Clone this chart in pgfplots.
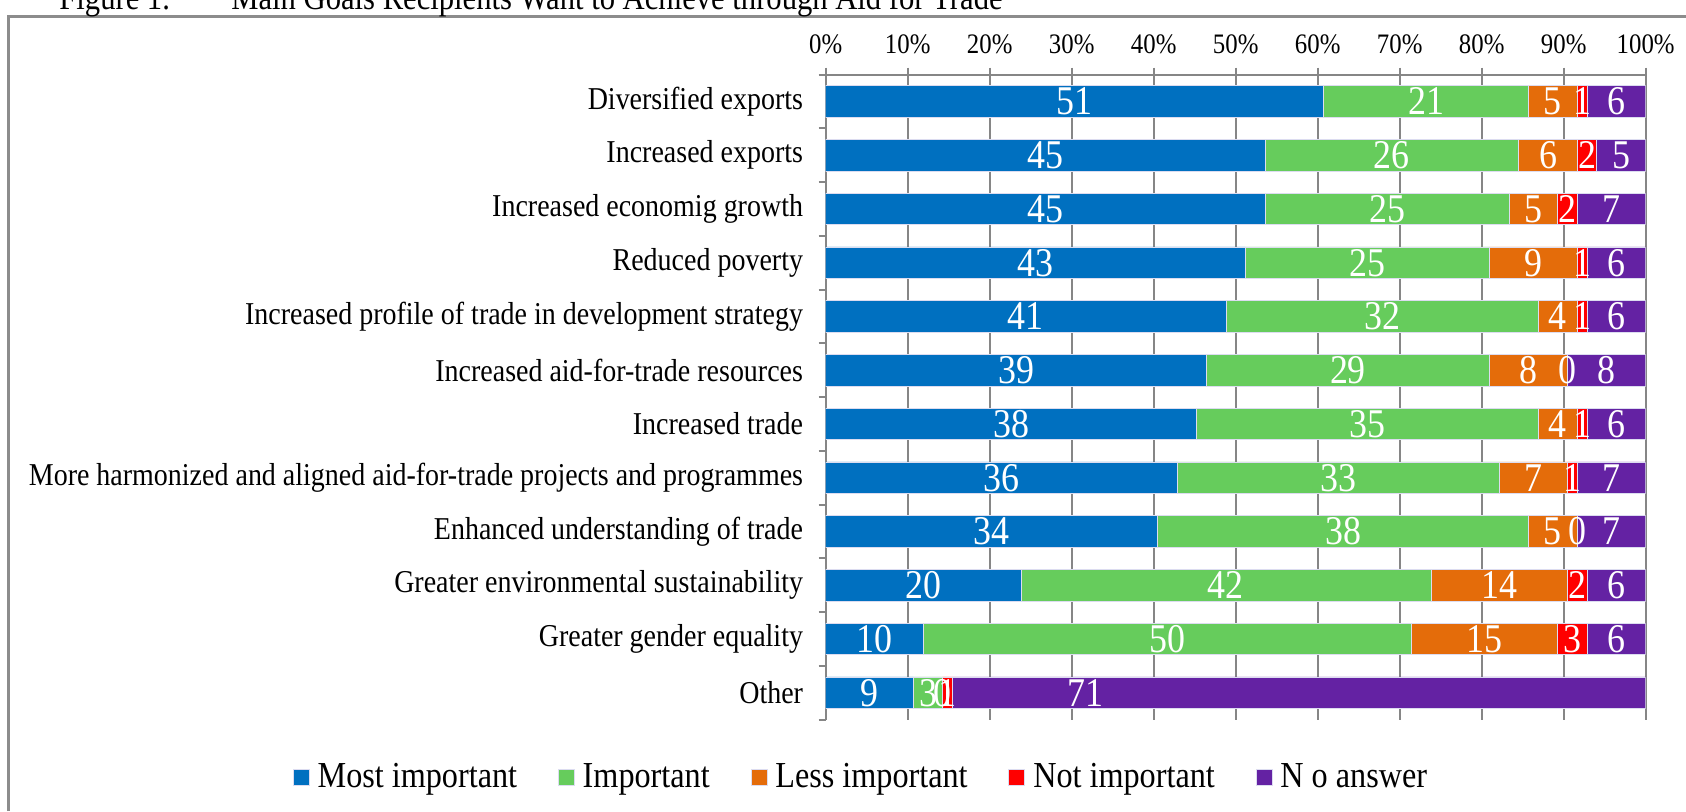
\documentclass[border=0pt]{standalone}
\usepackage{fontspec}
\setmainfont{Liberation Serif}[FakeStretch=0.88]
\usepackage{pgfplots}
\usepackage{pgfplotstable}
\pgfplotsset{compat=1.18}
\definecolor{cMost}{RGB}{0,112,192}
\definecolor{cImp}{RGB}{102,204,92}
\definecolor{cLess}{RGB}{228,108,10}
\definecolor{cNot}{RGB}{255,0,0}
\definecolor{cNo}{RGB}{100,34,163}
\definecolor{gridgray}{RGB}{134,134,134}
\definecolor{framegray}{RGB}{140,140,140}
\definecolor{edge}{RGB}{220,220,240}
\newcommand\catfont{\fontsize{15.9pt}{18pt}\selectfont}
\newcommand\tickfont{\fontsize{14.1pt}{16pt}\selectfont}
\newcommand\valfont{\fontsize{20.4pt}{22pt}\selectfont}
\newcommand\legfont{\fontsize{18.3pt}{20pt}\selectfont}
\newcommand\titfont{\fontsize{17.4pt}{20pt}\selectfont}
% zero shares are given as 0.001 so that their "0" label is still drawn
\pgfplotstableread{
y mi imp less notimp noans dx
11 51 21 5 1 6 0
10 45 26 6 2 5 0
9 45 25 5 2 7 0
8 43 25 9 1 6 0
7 41 32 4 1 6 0
6 39 29 8 0.001 8 0
5 38 35 4 1 6 0
4 36 33 7 1 7 0
3 34 38 5 0.001 7 0
2 20 42 14 2 6 0
1 10 50 15 3 6 0
0 9 3 0.001 1 71 -107
}\goals
\begin{document}
\begin{tikzpicture}
\begin{axis}[
  at={(412.85pt,-37.3pt)}, anchor=north west,
  scale only axis, width=410pt, height=322.5pt,
  xbar stacked, bar width=15.75pt,
  xmin=0, xmax=84.002, ymin=-0.5, ymax=11.5,
  enlargelimits=false,
  axis x line*=top, axis y line*=left,
  axis line style={gridgray, line width=1pt, -},
  xtick={0,8.4,16.8,25.2,33.6,42,50.4,58.8,67.2,75.6,84},
  xticklabels={0\%,10\%,20\%,30\%,40\%,50\%,60\%,70\%,80\%,90\%,100\%},
  xticklabel pos=upper,
  xmajorgrids,
  grid style={gridgray, line width=1pt},
  ytick={0,...,11},
  yticklabels={Other,Greater gender equality,Greater environmental sustainability,Enhanced understanding of trade,More harmonized and aligned aid-for-trade projects and programmes,Increased trade,Increased aid-for-trade resources,Increased profile of trade in development strategy,Reduced poverty,Increased economig growth,Increased exports,Diversified exports},
  minor ytick={-0.5,0.5,...,11.5},
  tick align=outside,
  major tick length=3.5pt, minor tick length=3.5pt,
  major x tick style={gridgray, line width=1pt},
  major y tick style={draw=none},
  minor y tick style={gridgray, line width=1pt},
  xticklabel style={font=\tickfont, yshift=3.5pt},
  yticklabel style={font=\catfont, xshift=-4.3pt},
  nodes near coords={\pgfmathprintnumber[assume math mode=true, fixed, precision=0]{\lbl}},
  nodes near coords style={font=\valfont, text=white},
  legend style={at={(0.0467,-0.0888)}, anchor=center, draw=none, fill=none,
    legend columns=5, font=\legfont,
    /tikz/every even column/.append style={column sep=16.4pt},
    nodes={inner xsep=4pt, inner ysep=0pt}},
  legend cell align=left,
  legend image code/.code={\fill[#1] (0pt,-4pt) rectangle (8pt,4pt);},
]
\addplot[fill=cMost, draw=edge, line width=0.4pt,
  visualization depends on={\thisrow{mi}\as\lbl}] table[x=mi, y=y] {\goals};
\addplot[fill=cImp, draw=edge, line width=0.4pt,
  visualization depends on={\thisrow{imp}\as\lbl}] table[x=imp, y=y] {\goals};
\addplot[fill=cLess, draw=edge, line width=0.4pt,
  visualization depends on={\thisrow{less}\as\lbl}] table[x=less, y=y] {\goals};
\addplot[fill=cNot, draw=edge, line width=0.4pt,
  visualization depends on={\thisrow{notimp}\as\lbl}] table[x=notimp, y=y] {\goals};
\addplot[fill=cNo, draw=edge, line width=0.4pt,
  visualization depends on={\thisrow{noans}\as\lbl},
  visualization depends on={\thisrow{dx}\as\dx},
  every node near coord/.append style={xshift=\dx pt}] table[x=noans, y=y] {\goals};
\legend{Most important,Important,Less important,Not important,N o answer}
\end{axis}
\draw[framegray, line width=1.5pt] (4.3pt,-405.5pt) -- (4.3pt,-8pt) -- (843pt,-8pt);
\node[anchor=base west, font=\titfont, inner sep=0pt] at (29.5pt,-4.5pt) {Figure 1.};
\node[anchor=base west, font=\titfont, inner sep=0pt] at (115.5pt,-4.5pt) {Main Goals Recipients Want to Achieve through Aid for Trade};
\pgfresetboundingbox
\path[use as bounding box] (0pt,0pt) rectangle (843pt,-405.5pt);
\end{tikzpicture}
\end{document}
